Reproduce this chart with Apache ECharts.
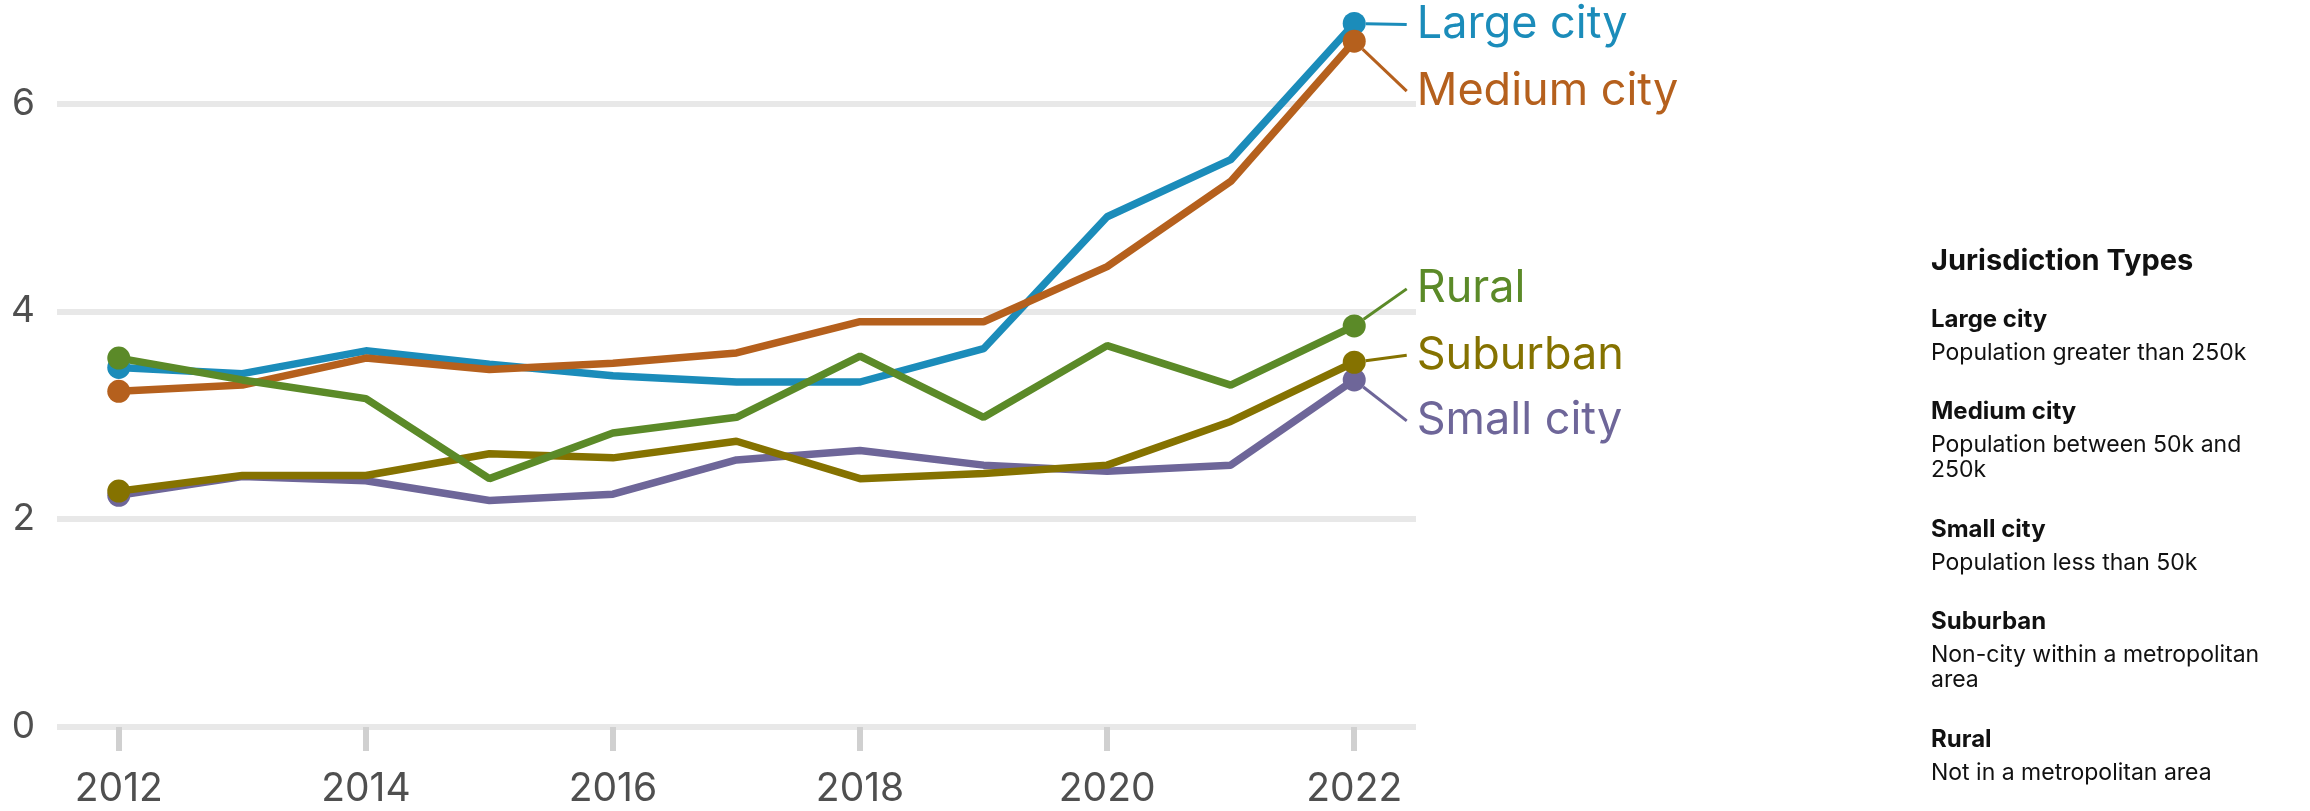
<!DOCTYPE html>
<html>
<head>
<meta charset="utf-8">
<script src="https://cdn.jsdelivr.net/npm/echarts@6/dist/echarts.min.js"></script>
<style>
  html, body { margin: 0; padding: 0; background: #fff; }
  #chart { width: 2310px; height: 811px; }
</style>
</head>
<body>
<div id="chart"></div>
<script>
// --- Datos ---
const years = ['2012', '2013', '2014', '2015', '2016', '2017', '2018', '2019', '2020', '2021', '2022'];
const largeCity  = [3.46, 3.40, 3.62, 3.49, 3.38, 3.32, 3.32, 3.64, 4.91, 5.46, 6.77];
const mediumCity = [3.23, 3.29, 3.55, 3.44, 3.50, 3.60, 3.90, 3.90, 4.43, 5.25, 6.60];
const smallCity  = [2.23, 2.41, 2.37, 2.18, 2.24, 2.57, 2.66, 2.52, 2.46, 2.52, 3.34];
const suburban   = [2.27, 2.42, 2.42, 2.63, 2.59, 2.75, 2.39, 2.44, 2.52, 2.94, 3.51];
const rural      = [3.55, 3.34, 3.16, 2.39, 2.83, 2.98, 3.57, 2.98, 3.67, 3.29, 3.86];
const yTicks = [0, 2, 4, 6];

const legendTitle = 'Jurisdiction Types';
const legendNames = ['Large city', 'Medium city', 'Small city', 'Suburban', 'Rural'];
const legendDescriptions = [
    'Population greater than 250k',
    'Population between 50k and\n250k',
    'Population less than 50k',
    'Non-city within a metropolitan\narea',
    'Not in a metropolitan area'
];

// --- Estilos (colores y posicion de etiquetas finales) ---
const FONT = 'Inter, Roboto, sans-serif';
const seriesDefs = [
    { name: 'Large city',  data: largeCity,  color: '#1b8cba', dy: 1,   pad: [0, 0, 0, 10] },
    { name: 'Medium city', data: mediumCity, color: '#b5601d', dy: 50,  pad: [20, 0, 0, 10] },
    { name: 'Small city',  data: smallCity,  color: '#6e6699', dy: 41,  pad: [20, 0, 0, 10] },
    { name: 'Suburban',    data: suburban,   color: '#857200', dy: -7,  pad: [0, 0, 0, 10] },
    { name: 'Rural',       data: rural,      color: '#5b8a28', dy: -37, pad: [0, 0, 10, 10] }
];

const chart = echarts.init(document.getElementById('chart'));

const series = seriesDefs.map(def => {
    const last = def.data.length - 1;
    const guide = { show: true, length2: 0, lineStyle: { color: def.color, width: 3 } };
    return {
        name: def.name,
        type: 'line',
        clip: false,
        animation: false,
        color: def.color,
        lineStyle: { width: 7.5, color: def.color },
        symbol: 'circle',
        symbolSize: (v, p) => (p.dataIndex === 0 || p.dataIndex === last) ? 23 : 0,
        itemStyle: { color: def.color },
        emphasis: { disabled: true },
        data: def.data.map((v, i) => i === last ? {
            value: v,
            label: {
                show: true,
                formatter: def.name,
                color: def.color,
                fontFamily: FONT,
                fontSize: 45,
                lineHeight: 30,
                padding: def.pad,
                backgroundColor: 'rgba(0,0,0,0)'
            },
            labelLine: guide
        } : v),
        labelLine: guide,
        labelLayout: function (params) {
            return {
                x: params.rect.x + params.rect.width + 41,
                y: params.rect.y + params.rect.height / 2 + def.dy,
                align: 'left',
                verticalAlign: 'middle'
            };
        }
    };
});

// --- Leyenda de texto a la derecha ---
const graphics = [{
    type: 'text', x: 1931, y: 261,
    style: { text: legendTitle, fontFamily: FONT, fontWeight: 'bold', fontSize: 29, fill: '#111', verticalAlign: 'middle' }
}];
let yPos = 319.5;
legendNames.forEach((name, i) => {
    const lines = legendDescriptions[i].split('\n').length;
    graphics.push({
        type: 'text', x: 1931, y: yPos,
        style: { text: name, fontFamily: FONT, fontWeight: 'bold', fontSize: 24, fill: '#111', verticalAlign: 'middle' }
    });
    graphics.push({
        type: 'text', x: 1931, y: yPos + 33.5 - 12.5,
        style: { text: legendDescriptions[i], fontFamily: FONT, fontSize: 23, lineHeight: 25, fill: '#111', verticalAlign: 'top' }
    });
    yPos += 92 + 26 * (lines - 1);
});

chart.setOption({
    animation: false,
    backgroundColor: '#fff',
    grid: { left: 57, right: 894, top: 103.5, bottom: 84, containLabel: false },
    xAxis: {
        type: 'category',
        data: years,
        boundaryGap: true,
        axisLine: { show: false },
        axisTick: { show: true, alignWithLabel: true, interval: 1, length: 24, lineStyle: { color: '#d0d0d0', width: 6 } },
        axisLabel: { interval: 1, color: '#4f4f4f', fontFamily: FONT, fontSize: 39, margin: 43 },
        splitLine: { show: false }
    },
    yAxis: {
        type: 'value',
        min: yTicks[0],
        max: yTicks[yTicks.length - 1],
        interval: yTicks[1] - yTicks[0],
        axisLine: { show: false },
        axisTick: { show: false },
        axisLabel: { color: '#4f4f4f', fontFamily: FONT, fontSize: 37, margin: 22 },
        splitLine: { show: true, lineStyle: { color: '#e8e8e8', width: 6 } }
    },
    series: series,
    graphic: graphics
});
</script>
</body>
</html>
